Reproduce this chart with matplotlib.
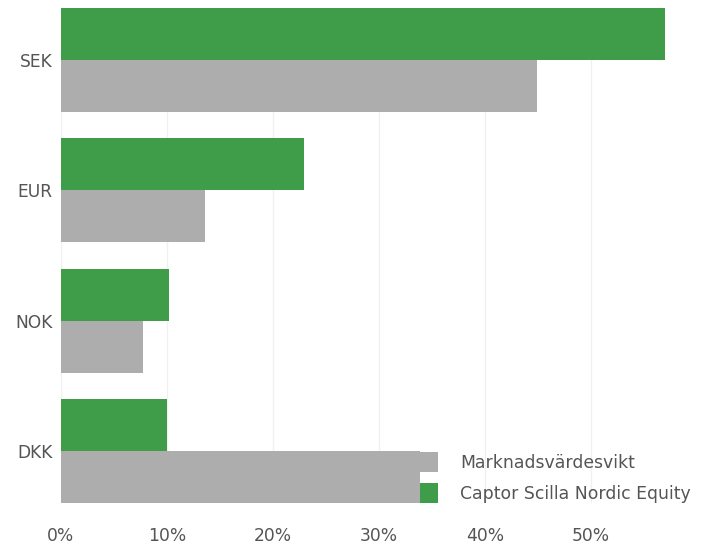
import matplotlib
matplotlib.use("Agg")
import matplotlib.pyplot as plt
import numpy as np

plt.rcParams["font.family"] = ["DejaVu Sans"]

CURRENCIES = ["SEK", "EUR", "NOK", "DKK"]
FUND_WEIGHTS = [57.0, 22.9, 10.2, 10.0]       # Captor Scilla Nordic Equity
MARKET_WEIGHTS = [44.9, 13.6, 7.7, 33.9]      # Marknadsvärdesvikt
X_TICKS = [0, 10, 20, 30, 40, 50]

GREEN = "#3f9c48"
GREY = "#adadad"
TEXT = "#555555"

BAR_H = 0.4

fig = plt.figure(figsize=(7.08, 5.45), dpi=100)
ax = fig.add_axes([61 / 708, 42 / 545, 636 / 708, 495 / 545])

y = np.arange(len(CURRENCIES))
ax.barh(y - BAR_H / 2, FUND_WEIGHTS, height=BAR_H, color=GREEN,
        label="Captor Scilla Nordic Equity", zorder=2)
ax.barh(y + BAR_H / 2, MARKET_WEIGHTS, height=BAR_H, color=GREY,
        label="Marknadsvärdesvikt", zorder=2)

ax.set_ylim(len(CURRENCIES) - 0.6, -0.4)
ax.set_xlim(0, 60)
ax.set_yticks(y)
ax.set_yticklabels(CURRENCIES)
ax.set_xticks(X_TICKS)
ax.set_xticklabels([f"{t}%" for t in X_TICKS])

ax.grid(axis="x", color="#f0f0f0", linewidth=1, zorder=0)
for s in ax.spines.values():
    s.set_visible(False)
ax.tick_params(axis="both", length=0, labelsize=12.3, labelcolor=TEXT)
ax.tick_params(axis="x", pad=17)
ax.tick_params(axis="y", pad=6)

handles, labels = ax.get_legend_handles_labels()
fs = 12.4
px = fs * 100 / 72
leg = fig.legend(handles[::-1], labels[::-1], loc="lower left",
                 bbox_to_anchor=(420 / 708, 42 / 545), frameon=False,
                 fontsize=fs, handlelength=18 / px, handleheight=1.41,
                 labelspacing=11 / px, handletextpad=22 / px,
                 borderpad=0, borderaxespad=0)
for t in leg.get_texts():
    t.set_color(TEXT)

fig.savefig("out.png", dpi=100)
